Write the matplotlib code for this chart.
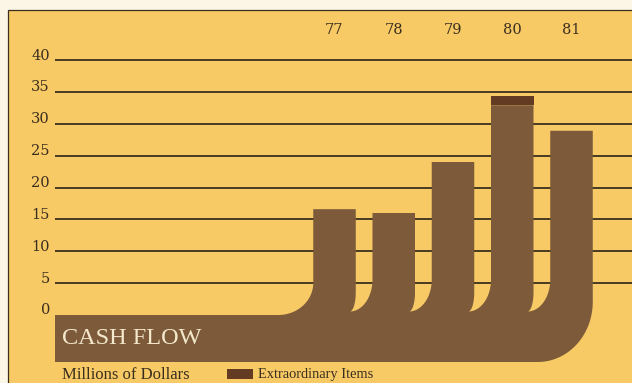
import numpy as np
import matplotlib
matplotlib.use("Agg")
import matplotlib.pyplot as plt
from matplotlib.path import Path
from matplotlib.patches import PathPatch, Rectangle

# ---- data -------------------------------------------------------------
years = ["77", "78", "79", "80", "81"]
cash_flow = [16.6, 16.0, 24.0, 32.9, 28.9]          # millions of dollars
extraordinary = [0.0, 0.0, 0.0, 1.5, 0.0]           # extraordinary items
grid_values = [5, 10, 15, 20, 25, 30, 35, 40]
tick_values = [0, 5, 10, 15, 20, 25, 30, 35, 40]

# ---- colours ----------------------------------------------------------
PAPER = "#fbf6e6"
YELLOW = "#f8ca66"
BROWN = "#7c5a3a"
DARK_BROWN = "#633b22"
INK = "#3a2e1f"
CREAM = "#f4e8cc"

# ---- figure / coordinate set-up ---------------------------------------
W, H = 632, 383
fig = plt.figure(figsize=(W / 100, H / 100), dpi=100)
fig.patch.set_facecolor(PAPER)
ax = fig.add_axes([0, 0, 1, 1])
ax.axis("off")

PX_X = 59.25      # pixels per year step
PX_Y = 6.375      # pixels per million
X0_PX, Y0_PX = 334.5, 315.0   # pixel position of first year / zero line


def X(px):
    return (px - X0_PX) / PX_X


def Y(px):
    return (Y0_PX - px) / PX_Y


def dx(px):
    return px / PX_X


def dy(px):
    return px / PX_Y


ax.set_xlim(X(0), X(W))
ax.set_ylim(Y(H), Y(0))

# panel background with a thin rule on top and left
ax.add_patch(Rectangle((X(8), Y(H + 10)), X(W + 10) - X(8), Y(10) - Y(H + 10),
                       facecolor=YELLOW, edgecolor=INK, linewidth=0.9, zorder=0))

# horizontal rules
ax.hlines(grid_values, X(55), X(W + 5), colors=INK, linewidth=1.3, zorder=1)

# ---- the cash-flow silhouette -------------------------------------------
positions = np.arange(len(years))
bar_w = dx(42.5)
left = positions - bar_w / 2
right = positions + bar_w / 2
tops = np.array(cash_flow)

band_left = X(55)
band_bottom = -dy(47)


def arc(cx, cy, rx, ry, t0, t1, n=40):
    t = np.radians(np.linspace(t0, t1, n))
    return list(zip(cx + rx * np.cos(t), cy + ry * np.sin(t)))


verts = [(band_left, band_bottom)]
# rounded bottom-right corner
rx, ry = dx(55), dy(60)
verts += arc(right[-1] - rx, band_bottom + ry, rx, ry, -90, 0)
verts += [(right[-1], tops[-1]), (left[-1], tops[-1])]

# crescent-shaped gaps between neighbouring columns
for i in range(len(years) - 1, 0, -1):
    tip_x = right[i - 1] - dx(6)
    tip_y = dy(3.5)
    verts += arc(tip_x, tip_y + dy(32), left[i] - tip_x, dy(32), 0, -90)
    verts += arc(tip_x, tip_y + dy(19), right[i - 1] - tip_x, dy(19), -90, 0)
    verts += [(right[i - 1], tops[i - 1]), (left[i - 1], tops[i - 1])]

# fillet where the first column meets the band
verts += arc(left[0] - dx(35), dy(32), dx(35), dy(32), 0, -90)
verts += [(band_left, 0.0), (band_left, band_bottom)]

codes = [Path.MOVETO] + [Path.LINETO] * (len(verts) - 2) + [Path.CLOSEPOLY]
ax.add_patch(PathPatch(Path(verts, codes), facecolor=BROWN,
                       edgecolor="none", zorder=3))

# extraordinary items stacked on top
ax.bar(positions, extraordinary, bottom=cash_flow, width=bar_w,
       color=DARK_BROWN, linewidth=0, zorder=4)

# ---- text ---------------------------------------------------------------
num_font = dict(family="DejaVu Serif", size=10.5, color=INK)
for v in tick_values:
    ax.text(X(50), v + dy(0.5), str(v), ha="right", va="baseline", **num_font)

for p, yr in zip(positions, years):
    ax.text(p, Y(30), yr, ha="center", va="center", **num_font)

ax.text(X(62), Y(344), "CASH FLOW", family="Liberation Serif", size=17.5,
        color=CREAM, ha="left", va="baseline", zorder=5)
ax.text(X(62), Y(379), "Millions of Dollars", family="Liberation Serif",
        size=12, color=INK, ha="left", va="baseline", zorder=5)

ax.add_patch(Rectangle((X(227), Y(379)), X(253) - X(227), Y(369) - Y(379),
                       facecolor=DARK_BROWN, edgecolor="none", zorder=5))
ax.text(X(258), Y(378), "Extraordinary Items", family="Liberation Serif",
        size=10.4, color=INK, ha="left", va="baseline", zorder=5)

fig.savefig("out.png", dpi=100, facecolor=fig.get_facecolor())
